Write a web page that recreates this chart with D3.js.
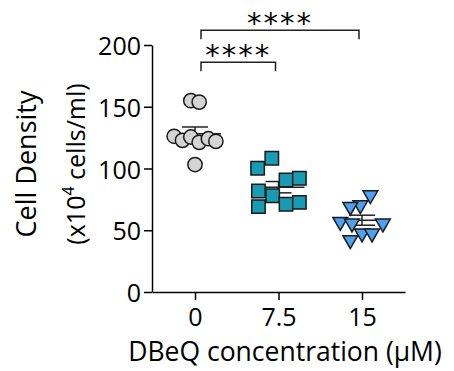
<!DOCTYPE html>
<html>
<head>
<meta charset="utf-8">
<script src="https://cdn.jsdelivr.net/npm/d3@7"></script>
<style>
  body { margin: 0; background: #fff; }
  text { font-family: "Open Sans", sans-serif; fill: #000; }
</style>
</head>
<body>
<div id="root"></div>
<script>
const w = 454;
const h = 371;

// data
const groups = ["0", "7.5", "15"];
const vehicle = [154.9, 153.8, 126.1, 122.8, 125.5, 121.2, 124.1, 122.0, 103.2];
const dbeq75 = [100.2, 108.3, 90.7, 92.1, 81.8, 78.0, 71.0, 72.6, 69.1];
const dbeq15 = [78.5, 70.4, 69.1, 56.9, 55.6, 55.6, 47.5, 47.5, 42.1];
// horizontal scatter of each point, as a fraction of the category step
const jitter0 = [-0.05, 0.05, -0.25, -0.15, -0.05, 0.05, 0.16, 0.25, 0];
const jitter1 = [-0.25, -0.08, 0.09, 0.25, -0.24, -0.07, 0.09, 0.25, -0.24];
const jitter2 = [0.1, -0.02, -0.14, -0.26, -0.12, 0.25, 0, 0.12, -0.14];
const yTicks = [0, 50, 100, 150, 200];
const comparisons = [["0", "7.5", 186, "****"], ["0", "15", 212, "****"]];

const series = [
    { name: "0", values: vehicle, jitter: jitter0, shape: "circle", fill: "#d4d4d4" },
    { name: "7.5", values: dbeq75, jitter: jitter1, shape: "square", fill: "#1a9bb4" },
    { name: "15", values: dbeq15, jitter: jitter2, shape: "triangle", fill: "#4ea1f2" }
];

const padLeft = 152, padRight = 405, padTop = 45, padBottom = 292;

const xScale = d3.scalePoint()
    .domain(groups)
    .range([padLeft, padRight])
    .padding(0.515);

const yScale = d3.scaleLinear()
    .domain([0, 200])
    .range([padBottom, padTop]);

const svg = d3.select("#root")
    .append("svg")
    .attr("width", w)
    .attr("height", h);

// y-axis
const yAxis = d3.axisLeft(yScale).tickValues(yTicks).tickSize(8).tickPadding(3).tickSizeOuter(0);
const gy = svg.append("g")
    .attr("transform", "translate(" + padLeft + ",0)")
    .call(yAxis);
gy.select(".domain").attr("stroke", "#000").attr("stroke-width", 1.5);
gy.selectAll(".tick line").attr("stroke-width", 1.5);
gy.selectAll(".tick text").style("font-size", "25px").attr("dy", "0.38em");

// x-axis
const xAxis = d3.axisBottom(xScale).tickSize(8).tickPadding(8).tickSizeOuter(0);
const gx = svg.append("g")
    .attr("transform", "translate(0," + padBottom + ")")
    .call(xAxis);
gx.select(".domain").attr("stroke", "#000").attr("stroke-width", 1.5);
gx.selectAll(".tick line").attr("stroke-width", 1.5);
gx.selectAll(".tick text").style("font-size", "25px");

// axis titles
svg.append("text")
    .attr("x", 285)
    .attr("y", 361)
    .attr("text-anchor", "middle")
    .style("font-size", "26.5px")
    .text("DBeQ concentration (\u00b5M)");

const yl = svg.append("text")
    .attr("transform", "translate(36,164) rotate(-90)")
    .attr("text-anchor", "middle");
yl.append("tspan").attr("x", 0).attr("y", 0).style("font-size", "27px").text("Cell Density");
yl.append("tspan").attr("x", 0).attr("y", 49).style("font-size", "25px").text("(x10");
yl.append("tspan").attr("dy", -11).style("font-size", "16px").text("4");
yl.append("tspan").attr("dy", 11).style("font-size", "25px").text(" cells/ml)");

// mean and SEM
const stat = series.map(s => {
    const m = d3.mean(s.values);
    const sem = d3.deviation(s.values) / Math.sqrt(s.values.length);
    return { name: s.name, mean: m, sem: sem };
});
const eb = svg.append("g").attr("stroke", "#222").attr("stroke-width", 1.5).attr("fill", "none");
stat.forEach(d => {
    const cx = xScale(d.name);
    eb.append("line").attr("x1", cx - 26).attr("x2", cx + 26)
        .attr("y1", yScale(d.mean)).attr("y2", yScale(d.mean));
    eb.append("line").attr("x1", cx).attr("x2", cx)
        .attr("y1", yScale(d.mean - d.sem)).attr("y2", yScale(d.mean + d.sem));
    [d.mean - d.sem, d.mean + d.sem].forEach(v => {
        eb.append("line").attr("x1", cx - 13).attr("x2", cx + 13)
            .attr("y1", yScale(v)).attr("y2", yScale(v));
    });
});

// points
const step = xScale.step();
const symbolType = { circle: d3.symbolCircle, square: d3.symbolSquare, triangle: d3.symbolTriangle };
const symbolSize = { circle: 160, square: 180, triangle: 95 };
series.forEach(s => {
    const sym = d3.symbol().type(symbolType[s.shape]).size(symbolSize[s.shape]);
    svg.append("g")
        .selectAll("path")
        .data(s.values.map((v, i) => ({ v: v, j: s.jitter[i] })))
        .enter()
        .append("path")
        .attr("d", sym)
        .attr("transform", d => "translate(" + (xScale(s.name) + d.j * step) + "," + yScale(d.v) + ")" + (s.shape === "triangle" ? " rotate(180)" : ""))
        .attr("fill", s.fill)
        .attr("stroke", "#1a1a1a")
        .attr("stroke-width", 1.5);
});

// significance brackets
const br = svg.append("g");
comparisons.forEach(c => {
    const x1 = xScale(c[0]) + 6;
    const x2 = xScale(c[1]) - 3;
    const y = yScale(c[2]);
    br.append("path")
        .attr("d", "M" + x1 + "," + (y + 9) + "V" + y + "H" + x2 + "V" + (y + 9))
        .attr("fill", "none")
        .attr("stroke", "#222")
        .attr("stroke-width", 1.5);
    br.append("text")
        .attr("x", (x1 + x2) / 2)
        .attr("y", y + 3)
        .attr("text-anchor", "middle")
        .style("font-family", "DejaVu Sans")
        .style("font-size", "29px")
        .style("letter-spacing", "2px")
        .text(c[3]);
});
</script>
</body>
</html>
